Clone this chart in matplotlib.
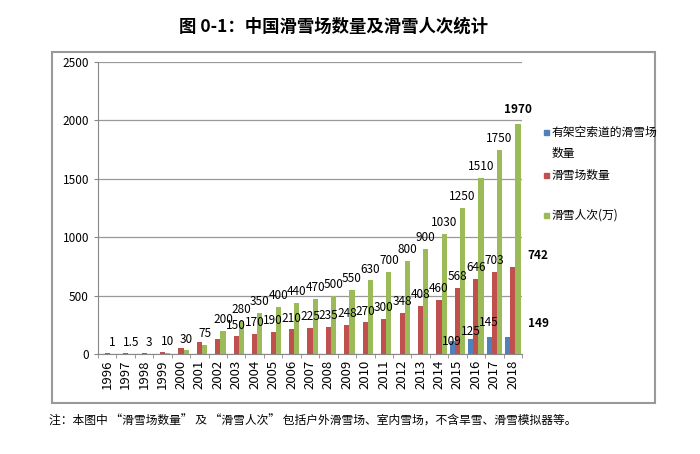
import matplotlib
matplotlib.use("Agg")
import matplotlib.pyplot as plt
import numpy as np
from matplotlib.patches import Rectangle

plt.rcParams['font.family'] = ['Noto Sans CJK SC', 'DejaVu Sans']
plt.rcParams['axes.unicode_minus'] = False

years = [str(y) for y in range(1996, 2019)]
# 有架空索道的滑雪场 (only from 2015)
lift = [0] * 19 + [109, 125, 145, 149]
resorts = [9, 11, 12, 15, 50, 100, 130, 150, 170, 190, 210, 225, 235, 248,
           270, 300, 348, 408, 460, 568, 646, 703, 742]
visits = [1, 1.5, 3, 10, 30, 75, 200, 280, 350, 400, 440, 470, 500, 550,
          630, 700, 800, 900, 1030, 1250, 1510, 1750, 1970]

blue = "#4F81BD"
red = "#C0504D"
green = "#9BBB59"

fig = plt.figure(figsize=(7, 4.54), dpi=100)
ax = fig.add_axes([0.14, 0.2203, 0.6057, 0.6431])

x = np.arange(len(years))
w = 0.28
b1 = ax.bar(x - w, lift, w, color=blue)
b2 = ax.bar(x, resorts, w, color=red)
b3 = ax.bar(x + w, visits, w, color=green)

fs = 8.5
last = len(years) - 1
for i, v in enumerate(visits):
    if i == last:
        continue
    ax.annotate(f"{v:g}", (x[i] + w, v), xytext=(0, 3.5), textcoords="offset points",
                ha="center", va="bottom", fontsize=fs)
for i, v in enumerate(resorts):
    if i < 7 or i == last:
        continue
    ax.annotate(f"{v:g}", (x[i], v), xytext=(0, 3.5), textcoords="offset points",
                ha="center", va="bottom", fontsize=fs)
# blue labels are staggered in the original
blue_dy = {19: -5, 20: 1, 21: 6}
for i, v in enumerate(lift):
    if v == 0 or i == last:
        continue
    ax.annotate(f"{v:g}", (x[i] - w, v), xytext=(0, blue_dy[i]), textcoords="offset points",
                ha="center", va="bottom", fontsize=fs)

# 2018 labels in bold
ax.annotate(f"{visits[last]:g}", (x[last] + w, visits[last]), xytext=(0, 6),
            textcoords="offset points", ha="center", va="bottom",
            fontsize=fs, fontweight="bold")
ax.annotate(f"{resorts[last]:g}", (x[last], resorts[last]), xytext=(18, 4),
            textcoords="offset points", ha="center", va="bottom",
            fontsize=fs, fontweight="bold")
ax.annotate(f"{lift[last]:g}", (x[last] - w, lift[last]), xytext=(22, 5),
            textcoords="offset points", ha="center", va="bottom",
            fontsize=fs, fontweight="bold")

ax.set_xlim(-0.5, len(years) - 0.5)
ax.set_ylim(0, 2500)
ax.set_yticks(range(0, 2501, 500))
ax.set_xticks(x)
ax.set_xticklabels(years, rotation=90, fontsize=9.5)
ax.tick_params(axis="x", length=0, pad=4)
ax.set_xticks(np.arange(-0.5, len(years), 1), minor=True)
ax.tick_params(axis="x", which="minor", length=3, color="#888888")
ax.tick_params(axis="y", labelsize=fs, length=3, color="#888888")
ax.yaxis.grid(True, color="#999999", linewidth=0.9)
ax.set_axisbelow(True)
for s in ["top", "right"]:
    ax.spines[s].set_visible(False)
for s in ["left", "bottom"]:
    ax.spines[s].set_color("#888888")

# legend drawn by hand to match the original spacing
legend_items = [(blue, "有架空索道的滑雪场\n数量", 132),
                (red, "滑雪场数量", 175),
                (green, "滑雪人次(万)", 215)]
for color, label, ypix in legend_items:
    yf = 1 - ypix / 454
    fig.patches.append(Rectangle((544 / 700, yf - 2.5 / 454), 5 / 700, 5 / 454,
                                 transform=fig.transFigure, color=color))
    fig.text(552 / 700, yf + 6 / 454, label, ha="left", va="top", fontsize=fs,
             linespacing=1.75)

fig.patches.append(Rectangle((0.0743, 0.1123), 0.861, 0.773, transform=fig.transFigure,
                             fill=False, edgecolor="#999999", linewidth=1.5))

fig.text(0.477, 0.942, "图 0-1：中国滑雪场数量及滑雪人次统计", ha="center", va="center",
         fontsize=12.5, fontweight="bold")
fig.text(0.07, 0.073, "注：本图中 “滑雪场数量” 及 “滑雪人次” 包括户外滑雪场、室内雪场，不含旱雪、滑雪模拟器等。",
         ha="left", va="center", fontsize=8.5)

fig.savefig("out.png", dpi=100)
